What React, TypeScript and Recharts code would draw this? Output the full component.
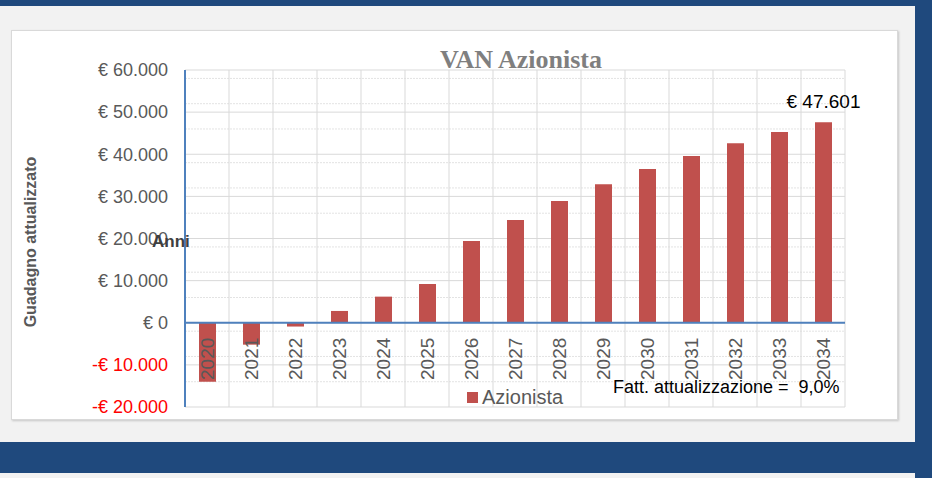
import { BarChart, Bar, XAxis, YAxis, CartesianGrid, ReferenceLine, LabelList } from "recharts"

// ── Data ──────────────────────────────────────────────────────────────────────

const YEARS = ["2020", "2021", "2022", "2023", "2024", "2025", "2026", "2027", "2028", "2029", "2030", "2031", "2032", "2033", "2034"]
const VAN_AZIONISTA = [-14000, -5200, -900, 2800, 6200, 9200, 19400, 24400, 28900, 32900, 36500, 39600, 42600, 45300, 47601]
const Y_TICKS = [-20000, -10000, 0, 10000, 20000, 30000, 40000, 50000, 60000]
const Y_MINOR = [
  -18000, -16000, -14000, -12000, -8000, -6000, -4000, -2000,
  2000, 4000, 6000, 8000, 12000, 14000, 16000, 18000,
  22000, 24000, 26000, 28000, 32000, 34000, 36000, 38000,
  42000, 44000, 46000, 48000, 52000, 54000, 56000, 58000,
]

const BLUE = "#1F497D"
const BAR = "#C0504D"
const AXIS = "#4F81BD"
const FONT = "'Liberation Sans', Arial, sans-serif"

function fmtEur(n: number): string {
  const abs = Math.abs(n).toString().replace(/\B(?=(\d{3})+(?!\d))/g, ".")
  return `${n < 0 ? "-" : ""}€ ${abs}`
}

const data = YEARS.map((year, i) => ({
  year,
  value: VAN_AZIONISTA[i],
  tag: i === YEARS.length - 1 ? fmtEur(VAN_AZIONISTA[i]) : "",
}))

// ── Ticks / labels ───────────────────────────────────────────────────────────

function EuroTick({ x, y, payload }: { x?: number; y?: number; payload?: { value: number } }) {
  const v = payload?.value ?? 0
  return (
    <text x={x} y={y} dy="0.35em" textAnchor="end" fontFamily={FONT} fontSize={18} fill={v < 0 ? "#FF0000" : "#595959"}>
      {fmtEur(v)}
    </text>
  )
}

function YearTick({ x, y, payload }: { x?: number; y?: number; payload?: { value: string } }) {
  const ty = (y ?? 0) - 27
  return (
    <text x={x} y={ty} dy="0.35em" transform={`rotate(-90, ${x}, ${ty})`} fontFamily={FONT} fontSize={19} fill="#595959">
      {payload?.value}
    </text>
  )
}

function TopTag(props: { x?: number; y?: number; width?: number; value?: string }) {
  const { x = 0, y = 0, width = 0, value } = props
  if (!value) return null
  return (
    <text x={x + width / 2} y={y - 14} textAnchor="middle" fontFamily={FONT} fontSize={19} fill="#000">
      {value}
    </text>
  )
}

export default function App() {
  return (
    <div style={{ position: "absolute", left: 0, top: 0, width: 944, height: 478, background: "#fff", overflow: "hidden" }}>
      {/* frame */}
      <div style={{ position: "absolute", left: 0, top: 6, width: 915, height: 436, background: "#F2F2F2" }} />
      <div style={{ position: "absolute", left: 0, top: 473, width: 915, height: 5, background: "#F2F2F2" }} />
      <div style={{ position: "absolute", left: 0, top: 0, width: 932, height: 6, background: BLUE }} />
      <div style={{ position: "absolute", left: 915, top: 0, width: 17, height: 478, background: BLUE }} />
      <div style={{ position: "absolute", left: 0, top: 442, width: 932, height: 31, background: BLUE }} />
      <div
        style={{
          position: "absolute", left: 11, top: 30, width: 885, height: 388, background: "#fff",
          border: "1px solid #D9D9D9", boxShadow: "1px 1px 2px rgba(0,0,0,0.18)",
        }}
      />

      <div style={{ position: "absolute", left: 0, top: 0 }}>
        <BarChart
          width={944}
          height={478}
          data={data}
          margin={{ top: 70, right: 99, bottom: 51, left: 25 }}
          style={{ fontFamily: FONT }}
        >
          <CartesianGrid horizontalValues={Y_MINOR} vertical={false} stroke="#E3E3E3" strokeDasharray="2 1" />
          <CartesianGrid
            horizontalValues={Y_TICKS}
            stroke="#D9D9D9"
            verticalCoordinatesGenerator={({ offset }: { offset: { left: number; width: number } }) =>
              YEARS.concat("").map((_, i) => offset.left + (i * offset.width) / YEARS.length)
            }
          />
          <XAxis
            dataKey="year"
            height={20}
            axisLine={false}
            tickLine={false}
            tickSize={0}
            tickMargin={0}
            tick={<YearTick />}
            interval={0}
          />
          <YAxis
            width={160}
            domain={[-20000, 60000]}
            ticks={Y_TICKS}
            allowDataOverflow
            axisLine={{ stroke: AXIS, strokeWidth: 2 }}
            tickLine={false}
            tickSize={0}
            tickMargin={17}
            tick={<EuroTick />}
          />
          <ReferenceLine y={0} stroke={AXIS} strokeWidth={2} />
          <Bar dataKey="value" name="Azionista" fill={BAR} barSize={17} isAnimationActive={false}>
            <LabelList dataKey="tag" content={<TopTag />} />
          </Bar>
        </BarChart>
      </div>

      {/* titles, legend and notes */}
      <svg width={944} height={478} style={{ position: "absolute", left: 0, top: 0, pointerEvents: "none" }}>
        <text x={521} y={68} textAnchor="middle" fontFamily="'Liberation Serif', serif" fontWeight="bold" fontSize={26} fill="#7F7F7F">
          VAN Azionista
        </text>
        <text
          x={36}
          y={242}
          textAnchor="middle"
          transform="rotate(-90, 36, 242)"
          fontFamily={FONT}
          fontWeight="bold"
          fontSize={16}
          fill="#595959"
        >
          Guadagno attualizzato
        </text>
        <text x={152} y={247} fontFamily={FONT} fontWeight="bold" fontSize={17} fill="#404040">
          Anni
        </text>
        <rect x={467} y={392} width={11} height={11} fill={BAR} />
        <text x={482} y={404} fontFamily={FONT} fontSize={20} fill="#595959">
          Azionista
        </text>
        <text x={613} y={393} fontFamily={FONT} fontSize={18} fill="#000" style={{ whiteSpace: "pre" }}>
          {"Fatt. attualizzazione =  9,0%"}
        </text>
      </svg>
    </div>
  )
}
